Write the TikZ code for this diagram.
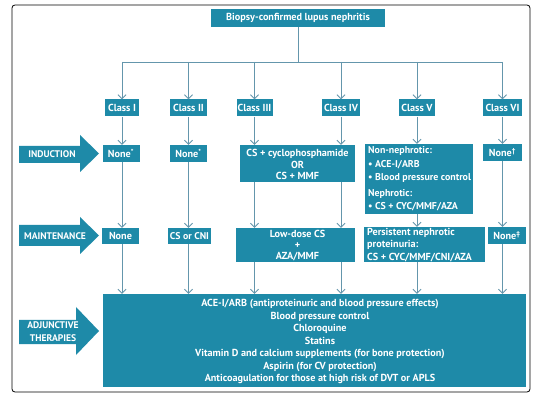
\documentclass[tikz,border=0pt]{standalone}
\usepackage{fontspec}
\setmainfont{PT Sans}
\usetikzlibrary{arrows.meta}
\definecolor{boxc}{RGB}{30,138,168}
\definecolor{linec}{RGB}{100,150,172}
\begin{document}
\begin{tikzpicture}[x=1pt,y=-1pt,
  box/.style={fill=boxc,text=white,font=\bfseries\fontsize{10.2}{12}\selectfont,inner sep=0pt,align=center},
  txt/.style={text=white,font=\bfseries\fontsize{10.2}{12}\selectfont,inner sep=0pt},
  conn/.style={draw=linec,line width=0.8pt},
  arr/.style={conn,-{Straight Barb[length=4pt,width=8pt]}},
  blk/.style={fill=boxc},
  lbl/.style={text=white,font=\bfseries\fontsize{9.6}{13.5}\selectfont,inner sep=0pt,align=center}]
\useasboundingbox (0,0) rectangle (539,401);
\fill[white] (0,0) rectangle (539,401);
\draw[rounded corners=3pt,line width=0.8pt] (12,5) rectangle (530,392);
% top
\node[box,minimum width=174pt,minimum height=18pt] (top) at (298,18) {Biopsy-confirmed lupus nephritis};
\coordinate (hl) at (298,62);
\coordinate (hlL) at (122,62);
\coordinate (hlR) at (502,62);
% classes
\node[box,minimum width=34pt,minimum height=17pt] (c1) at (122,108) {Class I};
\node[box,minimum width=37pt,minimum height=17pt] (c2) at (188.5,108) {Class II};
\node[box,minimum width=36pt,minimum height=17pt] (c3) at (254.5,108) {Class III};
\node[box,minimum width=38pt,minimum height=17pt] (c4) at (341,108) {Class IV};
\node[box,minimum width=36pt,minimum height=17pt] (c5) at (417,108) {Class V};
\node[box,minimum width=39pt,minimum height=17pt] (c6) at (502.5,108) {Class VI};
% induction
\node[box,minimum width=37pt,minimum height=17pt] (i1) at (121,153.5) {None\textsuperscript{*}};
\node[box,minimum width=37pt,minimum height=17pt] (i2) at (188.5,153.5) {None\textsuperscript{*}};
\node[box,minimum width=115pt,minimum height=37pt] (i34) at (297.5,163.5) {};
\node[txt,align=center,font=\bfseries\fontsize{10.2}{11.5}\selectfont] (i34t) at (297.5,164.5) {CS + cyclophosphamide\\OR\\CS + MMF};
\node[box,minimum width=108pt,minimum height=70pt] (i5) at (419,179) {};
\node[txt,anchor=north west,align=left,font=\bfseries\fontsize{9.9}{13.3}\selectfont] (i5t) at (368,146.5) {Non-nephrotic:\\• ACE-I/ARB\\• Blood pressure control\\[2.5pt]Nephrotic:\\• CS + CYC/MMF/AZA};
\node[box,minimum width=39pt,minimum height=17pt] (i6) at (502.5,152.5) {None\textsuperscript{†}};
% maintenance
\node[box,minimum width=37pt,minimum height=16pt] (m1) at (120.5,236) {None};
\node[box,minimum width=43pt,minimum height=16pt,font=\bfseries\fontsize{9.8}{12}\selectfont] (m2) at (189.5,236) {CS or CNI};
\node[box,minimum width=119pt,minimum height=34pt] (m34) at (295.5,245) {};
\node[txt,align=center,font=\bfseries\fontsize{10.2}{11}\selectfont] (m34t) at (297.5,245.5) {Low-dose CS\\+\\AZA/MMF};
\node[box,minimum width=121pt,minimum height=35pt] (m5) at (424.5,244.5) {};
\node[txt,anchor=north west,align=left,font=\bfseries\fontsize{10.2}{12.5}\selectfont] (m5t) at (367,228) {Persistent nephrotic\\proteinuria:\\CS + CYC/MMF/CNI/AZA};
\node[box,minimum width=38pt,minimum height=17pt] (m6) at (507,235.5) {None\textsuperscript{‡}};
% adjunctive
\node[box,minimum width=423pt,minimum height=93pt] (adj) at (314.5,340.5) {};
\node[txt,align=center,font=\bfseries\fontsize{10.2}{12.5}\selectfont] (adjt) at (320,341.5) {ACE-I/ARB (antiproteinuric and blood pressure effects)\\Blood pressure control\\Chloroquine\\Statins\\Vitamin D and calcium supplements (for bone protection)\\Aspirin (for CV protection)\\Anticoagulation for those at high risk of DVT or APLS};
% block arrows
\fill[blk] (19,146) -- (80,146) -- (80,135) -- (99,153.5) -- (80,172) -- (80,163) -- (19,163) -- cycle;
\node[lbl] (lind) at (52,154.5) {INDUCTION};
\fill[blk] (19,225) -- (80,225) -- (80,217) -- (99,235.5) -- (80,254) -- (80,246) -- (19,246) -- cycle;
\node[lbl] (lmain) at (55,236) {MAINTENANCE};
\fill[blk] (19,320) -- (76,320) -- (76,307) -- (99,331) -- (76,355) -- (76,344) -- (19,344) -- cycle;
\node[lbl] (ladj) at (53,331.5) {ADJUNCTIVE\\THERAPIES};
% connectors
\draw[conn] (top.south) -- (hl);
\draw[conn] (hlL) -- (hlR);
\foreach \c in {c1,c2,c3,c4,c5,c6}{
  \draw[arr] (hl -| \c) -- (\c.north);
}
\draw[arr] (c1.south) -- (c1.south |- i1.north);
\draw[arr] (c2.south) -- (c2.south |- i2.north);
\draw[arr] (c3.south) -- (c3.south |- i34.north);
\draw[arr] (c4.south) -- (c4.south |- i34.north);
\draw[arr] (c5.south) -- (c5.south |- i5.north);
\draw[arr] (c6.south) -- (c6.south |- i6.north);
\draw[arr] (c1 |- i1.south) -- (c1 |- m1.north);
\draw[arr] (c2 |- i2.south) -- (c2 |- m2.north);
\draw[arr] (c3 |- i34.south) -- (c3 |- m34.north);
\draw[arr] (c4 |- i34.south) -- (c4 |- m34.north);
\draw[arr] (c5 |- i5.south) -- (c5 |- m5.north);
\draw[arr] (c6 |- i6.south) -- (c6 |- m6.north);
\draw[arr] (c1 |- m1.south) -- (c1 |- adj.north);
\draw[arr] (c2 |- m2.south) -- (c2 |- adj.north);
\draw[arr] (c3 |- m34.south) -- (c3 |- adj.north);
\draw[arr] (c4 |- m34.south) -- (c4 |- adj.north);
\draw[arr] (c5 |- m5.south) -- (c5 |- adj.north);
\draw[arr] (c6 |- m6.south) -- (c6 |- adj.north);
\end{tikzpicture}
\end{document}
